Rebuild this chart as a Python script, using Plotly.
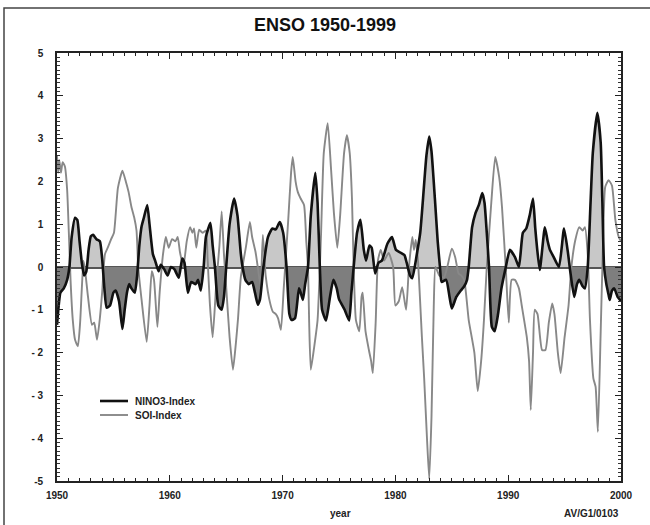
import plotly.graph_objects as go

# ---------------- data ----------------
nino3_year = [1950.0, 1950.15, 1950.3, 1950.6, 1950.9, 1951.1, 1951.3, 1951.6, 1951.8, 1952.0, 1952.2, 1952.4,
              1952.6, 1952.8, 1953.0, 1953.2, 1953.5, 1953.8, 1954.0, 1954.2, 1954.4, 1954.7, 1955.0, 1955.2,
              1955.5, 1955.8, 1956.0, 1956.2, 1956.4, 1956.6, 1956.9, 1957.1, 1957.3, 1957.5, 1957.7, 1958.0,
              1958.2, 1958.5, 1958.7, 1959.0, 1959.2, 1959.5, 1959.8, 1960.1, 1960.4, 1960.8, 1961.1, 1961.3,
              1961.6, 1961.9, 1962.3, 1962.5, 1962.75, 1963.0, 1963.2, 1963.6, 1963.8, 1964.0, 1964.3, 1964.6,
              1964.8, 1965.0, 1965.3, 1965.7, 1966.0, 1966.3, 1966.45, 1966.7, 1967.0, 1967.3, 1967.55, 1967.8,
              1968.0, 1968.3, 1968.7, 1969.1, 1969.4, 1969.75, 1970.05, 1970.35, 1970.6, 1970.8, 1971.1, 1971.45,
              1971.6, 1971.8, 1972.0, 1972.25, 1972.5, 1972.9, 1973.1, 1973.3, 1973.5, 1973.85, 1974.2, 1974.5,
              1974.8, 1975.0, 1975.5, 1975.9, 1976.1, 1976.3, 1976.6, 1976.9, 1977.2, 1977.4, 1977.7, 1977.9,
              1978.2, 1978.5, 1978.8, 1979.0, 1979.3, 1979.7, 1980.05, 1980.5, 1980.8, 1981.0, 1981.3, 1981.5,
              1981.9, 1982.2, 1982.45, 1982.75, 1983.0, 1983.2, 1983.5, 1983.75, 1983.95, 1984.1, 1984.5, 1984.8,
              1985.0, 1985.4, 1985.8, 1986.1, 1986.35, 1986.5, 1986.8, 1987.1, 1987.4, 1987.7, 1987.9, 1988.1,
              1988.3, 1988.55, 1988.8, 1989.1, 1989.4, 1989.75, 1990.15, 1990.6, 1990.95, 1991.3, 1991.6, 1991.9,
              1992.2, 1992.4, 1992.55, 1992.8, 1993.25, 1993.5, 1993.7, 1994.0, 1994.5, 1994.95, 1995.3, 1995.5,
              1995.85, 1996.1, 1996.3, 1996.6, 1996.8, 1997.05, 1997.3, 1997.5, 1997.9, 1998.2, 1998.35, 1998.5,
              1998.7, 1998.9, 1999.0, 1999.2, 1999.4, 1999.7, 2000.0]
nino3_value = [-1.35, -0.9, -0.6, -0.5, -0.3, 0.0, 0.7, 1.15, 1.1, 0.6, 0.1, -0.2,
               -0.1, 0.4, 0.72, 0.75, 0.65, 0.6, 0.2, -0.5, -0.95, -0.9, -0.6, -0.55,
               -0.8, -1.45, -1.0, -0.6, -0.4, -0.5, -0.6, -0.2, 0.5, 0.95, 1.15, 1.45,
               1.0, 0.3, 0.15, -0.1, 0.05, -0.05, -0.2, 0.0, -0.05, -0.25, 0.2, 0.1,
               -0.6, -0.35, -0.4, -0.3, -0.55, 0.0, 0.7, 1.03, 0.5, 0.0, -0.9, -1.0,
               -0.7, 0.0, 1.0, 1.6, 1.2, 0.3, 0.0, -0.3, -0.4, -0.35, -0.6, -0.88,
               -0.75, 0.0, 0.7, 0.9, 0.88, 1.05, 0.8, 0.0, -1.1, -1.24, -1.2, -0.5,
               -0.6, -0.77, -0.4, 0.0, 1.2, 2.2, 1.5, 0.0, -1.0, -1.25, -0.7, -0.3,
               -0.5, -0.75, -1.0, -1.25, -0.6, 0.0, 0.8, 1.1, 0.4, 0.15, 0.5, 0.45,
               -0.15, 0.1, 0.15, 0.3, 0.55, 0.7, 0.4, 0.33, 0.28, 0.1, -0.2, -0.26,
               0.3, 0.8, 1.6, 2.6, 3.05, 2.7, 1.6, 0.6, 0.0, -0.35, -0.3, -0.7,
               -0.97, -0.7, -0.55, -0.45, -0.3, 0.0, 0.93, 1.26, 1.45, 1.73, 1.5, 0.8,
               0.0, -1.4, -1.5, -1.1, -0.5, -0.05, 0.4, 0.23, 0.0, 0.8, 0.9, 1.2,
               1.6, 0.9, 0.47, -0.07, 0.93, 0.6, 0.4, 0.25, 0.0, 0.9, 0.33, -0.1,
               -0.7, -0.4, -0.3, -0.45, -0.5, 0.0, 1.5, 2.66, 3.6, 2.9, 1.5, 0.0,
               -0.4, -0.65, -0.77, -0.55, -0.5, -0.7, -0.8]

soi_year = [1950.0, 1950.1, 1950.2, 1950.35, 1950.5, 1950.7, 1950.9, 1951.05, 1951.2, 1951.4, 1951.6, 1951.85,
            1952.05, 1952.2, 1952.35, 1952.5, 1952.75, 1953.1, 1953.3, 1953.55, 1953.8, 1954.0, 1954.25, 1954.5,
            1954.8, 1955.05, 1955.4, 1955.8, 1956.1, 1956.35, 1956.6, 1956.85, 1957.05, 1957.2, 1957.5, 1957.95,
            1958.2, 1958.4, 1958.6, 1958.9, 1959.1, 1959.4, 1959.65, 1959.9, 1960.2, 1960.5, 1960.7, 1960.9,
            1961.2, 1961.5, 1961.8, 1962.0, 1962.15, 1962.35, 1962.6, 1962.9, 1963.2, 1963.35, 1963.55, 1963.8,
            1964.1, 1964.4, 1964.6, 1964.8, 1965.0, 1965.3, 1965.6, 1965.85, 1966.05, 1966.3, 1966.75, 1967.1,
            1967.3, 1967.6, 1967.8, 1968.05, 1968.25, 1968.5, 1968.9, 1969.15, 1969.4, 1969.6, 1969.85, 1970.1,
            1970.5, 1970.75, 1970.9, 1971.15, 1971.35, 1971.6, 1971.9, 1972.1, 1972.25, 1972.35, 1972.5, 1972.8,
            1973.1, 1973.4, 1973.65, 1974.0, 1974.3, 1974.55, 1974.85, 1975.1, 1975.45, 1975.7, 1975.95, 1976.15,
            1976.3, 1976.5, 1976.8, 1977.0, 1977.1, 1977.35, 1977.65, 1977.85, 1978.0, 1978.25, 1978.45, 1978.7,
            1979.0, 1979.4, 1979.8, 1980.0, 1980.3, 1980.6, 1980.95, 1981.2, 1981.5, 1981.65, 1981.8, 1982.0,
            1982.35, 1982.55, 1982.8, 1983.0, 1983.2, 1983.4, 1983.55, 1983.9, 1984.3, 1984.6, 1985.0, 1985.3,
            1985.6, 1985.85, 1986.1, 1986.5, 1987.0, 1987.3, 1987.6, 1987.85, 1988.1, 1988.5, 1988.85, 1989.2,
            1989.45, 1989.8, 1990.05, 1990.3, 1990.6, 1990.95, 1991.2, 1991.65, 1991.85, 1992.0, 1992.2, 1992.35,
            1992.6, 1993.0, 1993.3, 1993.6, 1993.9, 1994.1, 1994.4, 1994.65, 1995.0, 1995.35, 1995.6, 1995.95,
            1996.3, 1996.6, 1996.8, 1997.05, 1997.25, 1997.55, 1997.75, 1997.95, 1998.2, 1998.4, 1998.6, 1998.9,
            1999.2, 1999.5, 1999.8, 2000.0]
soi_value = [2.6, 2.2, 2.5, 2.2, 2.45, 2.35, 1.8, 0.8, -0.3, -1.24, -1.7, -1.85,
             -1.3, -0.5, 0.15, -0.1, -0.7, -1.35, -1.3, -1.7, -1.2, -0.6, 0.3, 0.45,
             0.65, 0.8, 1.85, 2.25, 2.0, 1.75, 1.4, 1.15, 0.85, 0.0, -0.77, -1.75,
             -0.9, -0.1, -0.3, -1.4, -0.6, 0.3, 0.7, 0.45, 0.65, 0.6, 0.7, 0.35,
             0.0, 0.6, 0.93, 0.8, 0.9, 0.45, 0.87, 0.8, 0.85, 0.2, -0.85, -1.64,
             -0.47, 0.5, 1.3, 0.3, -0.47, -1.64, -2.4, -1.8, -1.2, -0.23, 0.47, 1.05,
             0.7, 0.35, 0.0, -0.45, 0.75, -0.2, -0.85, -1.05, -1.1, -1.2, -1.47, -0.5,
             1.1, 2.2, 2.57, 2.0, 1.75, 1.6, 1.45, 0.6, 0.0, -1.24, -2.4, -1.87,
             -1.24, 0.7, 2.66, 3.36, 2.27, 1.26, 0.45, 1.2, 2.66, 3.08, 2.66, 1.6,
             0.0, -1.24, -1.5, -0.7, -0.6, -1.5, -1.94, -2.2, -2.48, -1.3, 0.15, 0.4,
             0.15, 0.33, 0.0, -0.9, -0.8, -0.47, -1.0, 0.0, 0.7, 0.4, 0.63, 0.15,
             -1.64, -2.6, -4.0, -4.95, -3.5, -0.93, 0.0, -0.2, -0.25, 0.0, 0.43, 0.23,
             -0.15, -0.2, -0.3, -1.24, -2.0, -2.9, -2.2, -1.24, 0.0, 1.5, 2.57, 2.1,
             1.4, -0.1, -1.3, -0.3, -0.3, -0.5, -0.9, -1.64, -2.2, -3.34, -2.0, -1.0,
             -1.1, -1.94, -1.94, -1.3, -0.85, -1.1, -2.0, -2.48, -1.64, -0.9, 0.0, 0.63,
             0.93, 0.85, 0.93, 0.3, -1.24, -2.6, -2.8, -3.85, -1.5, 0.5, 1.87, 2.03,
             1.9, 1.1, 0.7, 0.6]

series_names = ["NINO3-Index", "SOI-Index"]
x_tick_vals = [1950, 1960, 1970, 1980, 1990, 2000]
x_tick_text = ["1950", "1960", "1970", "1980", "1990", "2000"]
y_tick_vals = [5, 4, 3, 2, 1, 0, -1, -2, -3, -4, -5]
y_tick_text = ["5", "4", "3", "2", "1", "0", "- 1", "- 2", "- 3", "- 4", "-5"]


def split_sign(xs, ys):
    """Positive and negative parts of a series, with zero-crossings added so the fill meets the axis."""
    px, py, nx, ny = [], [], [], []
    for i in range(len(xs)):
        if i > 0 and ys[i - 1] * ys[i] < 0:
            t = ys[i - 1] / (ys[i - 1] - ys[i])
            xc = xs[i - 1] + t * (xs[i] - xs[i - 1])
            px.append(xc); py.append(0.0); nx.append(xc); ny.append(0.0)
        px.append(xs[i]); py.append(max(ys[i], 0.0))
        nx.append(xs[i]); ny.append(min(ys[i], 0.0))
    return px, py, nx, ny


pos_x, pos_y, neg_x, neg_y = split_sign(nino3_year, nino3_value)

FONT = "Liberation Sans, Arial, Helvetica, sans-serif"
NINO_COLOR = "#111111"
SOI_COLOR = "#888888"

fig = go.Figure()
fig.add_trace(go.Scatter(x=pos_x, y=pos_y, mode="lines", line=dict(width=0),
                         fill="tozeroy", fillcolor="#c8c8c8", showlegend=False, hoverinfo="skip"))
fig.add_trace(go.Scatter(x=neg_x, y=neg_y, mode="lines", line=dict(width=0),
                         fill="tozeroy", fillcolor="#7e7e7e", showlegend=False, hoverinfo="skip"))
fig.add_trace(go.Scatter(x=soi_year, y=soi_value, mode="lines", name=series_names[1], showlegend=False,
                         line=dict(color=SOI_COLOR, width=1.9, shape="spline", smoothing=0.5)))
fig.add_trace(go.Scatter(x=nino3_year, y=nino3_value, mode="lines", name=series_names[0], showlegend=False,
                         line=dict(color=NINO_COLOR, width=2.6, shape="spline", smoothing=0.5)))

axis_common = dict(showline=True, linecolor="#222222", linewidth=1.6, mirror="ticks",
                   ticks="inside", tickcolor="#222222", showgrid=False,
                   tickfont=dict(family=FONT, size=10, color="#222222", weight="bold"))

fig.update_xaxes(range=[1950, 2000], tickvals=x_tick_vals, ticktext=x_tick_text,
                 ticklen=6, tickwidth=1.2, zeroline=False, ticklabelstandoff=4,
                 minor=dict(dtick=1, ticklen=3, tickwidth=1, ticks="inside", tickcolor="#222222"),
                 **axis_common)
fig.update_yaxes(range=[-5, 5], tickvals=y_tick_vals, ticktext=y_tick_text,
                 ticklen=6, tickwidth=1.2, zeroline=True, zerolinecolor="#555555",
                 zerolinewidth=2.5, ticklabelstandoff=10,
                 minor=dict(dtick=0.1, ticklen=3, tickwidth=0.8, ticks="inside", tickcolor="#333333"),
                 **axis_common)

# hand-made legend (line sample + label), placed like the reference
legend_font = dict(family=FONT, size=10, color="#222222", weight="bold")
legend_shapes = []
legend_notes = []
for name, color, width, ypix in [(series_names[0], NINO_COLOR, 2.6, 401), (series_names[1], SOI_COLOR, 1.9, 415)]:
    yp = (481 - ypix) / 428
    legend_shapes.append(dict(type="line", xref="paper", yref="paper",
                              x0=(100 - 57) / 564, x1=(128 - 57) / 564, y0=yp, y1=yp,
                              line=dict(color=color, width=width)))
    legend_notes.append(dict(text=name, x=(133 - 57) / 564, y=yp, xref="paper", yref="paper",
                             showarrow=False, xanchor="left", yanchor="middle", font=legend_font))

fig.update_layout(
    width=650, height=525,
    margin=dict(l=57, r=29, t=53, b=44),
    paper_bgcolor="white", plot_bgcolor="white",
    showlegend=False,
    title=dict(text="ENSO 1950-1999", x=0.5, xanchor="center", y=1 - 25 / 525, yanchor="middle",
               font=dict(family=FONT, size=18, color="#111111", weight="bold")),
    annotations=legend_notes + [
        dict(text="year", x=(340 - 57) / 564, y=-(513 - 481) / 428, xref="paper", yref="paper",
             showarrow=False, xanchor="center", yanchor="middle",
             font=dict(family=FONT, size=10, color="#222222", weight="bold")),
        dict(text="AV/G1/0103", x=1.0, y=-(513 - 481) / 428, xref="paper", yref="paper",
             showarrow=False, xanchor="right", yanchor="middle",
             font=dict(family=FONT, size=10, color="#222222", weight="bold")),
    ],
    shapes=legend_shapes + [
        dict(type="rect", xref="paper", yref="paper", x0=-(57 - 4) / 564, x1=1.2,
             y0=-0.3, y1=1 + (53 - 8) / 428,
             line=dict(color="#444444", width=1.5), fillcolor="rgba(0,0,0,0)", layer="below"),
    ],
)

fig.write_html("out.html", config={"displayModeBar": False},
               post_script="document.body.style.margin='0';")
